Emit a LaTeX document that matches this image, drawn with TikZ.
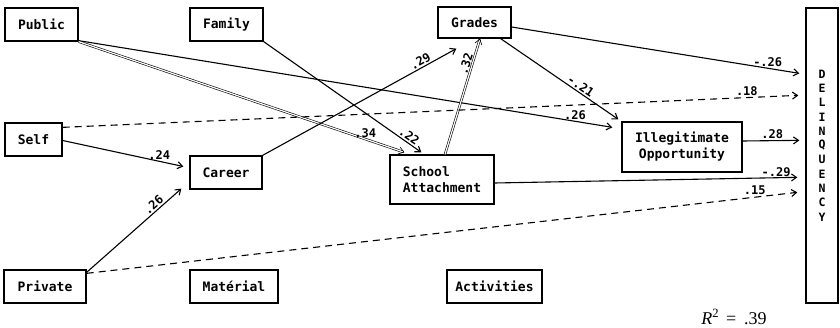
\documentclass[tikz,border=0pt]{standalone}
\usepackage{fontspec}
\setmainfont{Liberation Serif}
\setmonofont{DejaVu Sans Mono}
\usetikzlibrary{arrows.meta,calc}
\tikzset{
  var/.style={draw,line width=1.3pt,inner sep=0pt,minimum height=33pt,
    font=\ttfamily\bfseries\fontsize{13}{16}\selectfont},
  effect/.style={line width=1.1pt,-{Straight Barb[length=5pt,width=7pt]}},
  effectdbl/.style={effect,double,double distance=1.2pt,line width=0.6pt},
  spur/.style={effect,dash pattern=on 7pt off 5pt},
  coef/.style={font=\ttfamily\bfseries\fontsize{12}{12}\selectfont,inner sep=1.5pt},
  letter/.style={font=\ttfamily\bfseries\fontsize{11.5}{11.5}\selectfont,inner sep=0pt}
}
\begin{document}
\begin{tikzpicture}[x=1pt,y=-1pt]
\useasboundingbox (0,0) rectangle (840,328);
% exogenous variables
\node[var,minimum width=73pt] (public) at (41.5,24.5) {Public};
\node[var,minimum width=73pt] (family) at (226.5,24.5) {Family};
\node[var,minimum width=57pt] (self) at (33.5,139.5) {Self};
\node[var,minimum width=82pt] (private) at (45,286.5) {Private};
\node[var,minimum width=88pt] (material) at (234,286.5) {Matérial};
\node[var,minimum width=95pt] (activities) at (494.5,286.5) {Activities};
% intervening variables
\node[var,minimum width=72pt] (career) at (226,172.5) {Career};
\node[var,minimum width=73pt,minimum height=31pt] (grades) at (474.5,22.5) {Grades};
\node[var,minimum width=104pt,minimum height=49pt,align=left] (school) at (442,179.5) {School\\Attachment};
\node[var,minimum width=120pt,minimum height=50pt,align=center] (illeg) at (682,147) {Illegitimate\\Opportunity};
% outcome
\node[draw,line width=1.3pt,minimum width=32pt,minimum height=295pt] (delinq) at (822,155.5) {};
\foreach \ch [count=\i] in {D,E,L,I,N,Q,U,E,N,C,Y}
  \node[letter] (ltr\i) at (822,{74+14.3*(\i-1)}) {\ch};
% paths
\draw[effect] ($(public.south east)+(0,-1)$) -- ($(illeg.north west)+(-9,6)$) node[coef,pos=0.93,above] {.26};
\draw[effectdbl] (public.south east) -- ($(school.north west)+(15,-2)$) node[coef,pos=0.88,above] {.34};
\draw[effect] (family.south east) -- ($(school.north west)+(32,-2)$) node[coef,pos=0.9,above,sloped] {.22};
\draw[effect] (career.north east) -- ($(grades.south west)+(19,10)$) node[coef,pos=0.83,above,sloped] {.29};
\draw[effectdbl] ($(school.north)+(3,0)$) -- ($(grades.south)+(5.5,0)$) node[coef,pos=0.77,above,sloped] {.32};
\draw[effect] ($(grades.east)+(0,4.5)$) -- ($(delinq.north west)+(-6,66)$) node[coef,pos=0.89,above] {-.26};
\draw[effect] ($(grades.south east)+(-11,0)$) -- ($(illeg.north west)+(-3,-2)$) node[coef,pos=0.65,above,sloped] {-.21};
\draw[spur] ($(self.north east)+(0,5)$) -- ($(delinq.north west)+(-7,88)$) node[coef,pos=0.93,above] {.18};
\draw[effect] ($(self.east)+(0,1)$) -- ($(career.west)+(-6,-6)$) node[coef,pos=0.8,above] {.24};
\draw[effect] ($(illeg.east)+(0,-6)$) -- ($(delinq.north west)+(-6,133)$) node[coef,pos=0.52,above] {.28};
\draw[effect] ($(school.east)+(0,3.5)$) -- ($(delinq.north west)+(-8,170)$) node[coef,pos=0.93,above,inner sep=0.5pt] {-.29};
\draw[spur] ($(private.north east)+(0,4)$) -- ($(delinq.north west)+(-8,185)$) node[coef,pos=0.94,above] {.15};
\draw[effect] ($(private.north east)+(0,3)$) -- ($(career.south west)+(-8,-1)$) node[coef,pos=0.75,above,sloped] {.26};
% fit
\node[font=\fontsize{18}{18}\selectfont] (rsq) at (734,317) {\textit{R}\textsuperscript{2}\hspace{7pt}=\hspace{8pt}.39};
\end{tikzpicture}
\end{document}
